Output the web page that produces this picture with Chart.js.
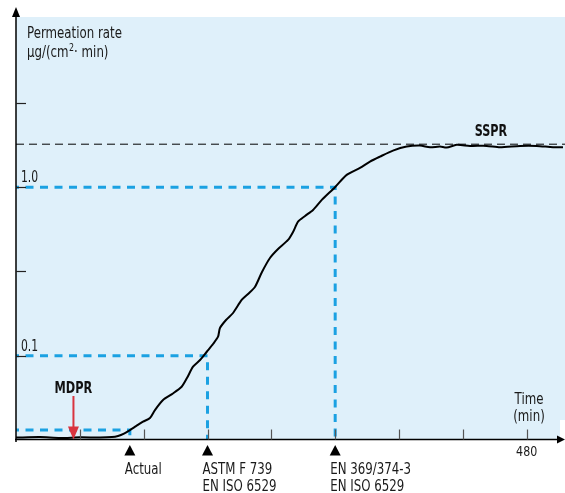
<!DOCTYPE html>
<html>
<head>
<meta charset="utf-8">
<script src="https://cdn.jsdelivr.net/npm/chart.js@4.4.1/dist/chart.umd.min.js"></script>
<style>
  html, body { margin: 0; padding: 0; background: #fff; }
  #wrap { width: 565px; height: 493px; }
</style>
</head>
<body>
<div id="wrap"><canvas id="chart" width="565" height="493"></canvas></div>
<script>
// permeation curve (time in min, rate in µg/(cm²·min))
const curveTimes = [0, 22.6, 41.4, 60.2, 79.0, 90.2, 95.9, 101.5, 107.1, 112.8, 119.4, 125.9, 130.6, 138.2,
    146.6, 155.7, 160.7, 166.4, 173.0, 179.3, 185.2, 189.9, 191.7, 197.4, 204.0, 212.1, 218.1, 224.7,
    231.2, 238.7, 246.3, 255.7, 260.4, 265.1, 271.7, 279.2, 287.4, 299.8, 310.8, 323.3, 332.7, 342.1,
    354.3, 367.2, 379.7, 389.1, 398.5, 404.8, 414.2, 426.7, 442.4, 454.9, 473.7, 489.4, 504.7, 514.1];
const curveRates = [0.0327, 0.0329, 0.0325, 0.0328, 0.0327, 0.0329, 0.0334, 0.0345, 0.0362, 0.0382, 0.0406, 0.0427, 0.0476, 0.0546,
    0.0592, 0.0655, 0.0737, 0.0861, 0.0943, 0.1056, 0.1174, 0.1297, 0.1461, 0.1629, 0.1793, 0.2142, 0.2325, 0.2569,
    0.3141, 0.3803, 0.4301, 0.4864, 0.5425, 0.6247, 0.6754, 0.7329, 0.8407, 1.0, 1.183, 1.302, 1.419, 1.519,
    1.649, 1.742, 1.766, 1.728, 1.742, 1.719, 1.784, 1.759, 1.759, 1.728, 1.759, 1.759, 1.728, 1.728];

// breakthrough markers
const markerTimes = [107, 180, 300];
const markerRates = [0.0362, 0.1, 1.0];
const markerLabels = [['Actual'], ['ASTM F 739', 'EN ISO 6529'], ['EN 369/374-3', 'EN ISO 6529']];

const ssprRate = 1.8;
const mdprTime = 54;

// axis ticks
const xTicks = [60, 120, 180, 240, 300, 360, 420, 480];
const xTickLabels = ['', '', '', '', '', '', '', '480'];
const yTicks = [0.1, 0.3162, 1, 3.162];
const yTickLabels = ['0.1', '', '1.0', ''];

const X_MAX = 516;
const Y_MIN = Math.pow(10, -1.5);
const Y_MAX = Math.pow(10, 1.01);

const FONT = '"Liberation Sans Narrow", "DejaVu Sans Condensed", "Liberation Sans", sans-serif';
const BLUE = '#1ba1e2';

const curveData = curveTimes.map((t, i) => ({ x: t, y: curveRates[i] }));

const guideSets = markerTimes.map((t, i) => ({
    data: [{ x: 0, y: markerRates[i] }, { x: t, y: markerRates[i] }, { x: t, y: Y_MIN }],
    borderColor: BLUE,
    borderWidth: 3,
    borderDash: [8, 6.5],
    borderDashOffset: 5,
    pointRadius: 0,
    tension: 0
}));

// condensed text: the original uses a narrow face, squeeze horizontally
function text(ctx, s, x, y, align, sx) {
    ctx.save();
    ctx.translate(x, y);
    ctx.scale(sx, 1);
    ctx.textAlign = align;
    ctx.fillText(s, 0, 0);
    ctx.restore();
}

const decor = {
    id: 'decor',
    beforeDraw(chart) {
        const { ctx, chartArea: a } = chart;
        ctx.save();
        ctx.fillStyle = '#dff0fa';
        ctx.fillRect(a.left, a.top, a.right - a.left - 5, a.bottom - a.top);
        ctx.fillRect(a.left, a.top, a.right - a.left, a.bottom - a.top - 20);
        ctx.restore();
    },
    afterDraw(chart) {
        const { ctx, chartArea: a, scales } = chart;
        const xs = scales.x, ys = scales.y;
        const axisY = a.bottom - 0.5;
        ctx.save();

        // axes
        ctx.strokeStyle = '#000';
        ctx.lineWidth = 1.5;
        ctx.beginPath();
        ctx.moveTo(a.left, a.bottom + 2);
        ctx.lineTo(a.left, a.top - 4);
        ctx.moveTo(a.left - 1, axisY);
        ctx.lineTo(a.right - 4, axisY);
        ctx.stroke();
        ctx.fillStyle = '#000';
        ctx.beginPath();
        ctx.moveTo(a.left, a.top - 10);
        ctx.lineTo(a.left - 4, a.top);
        ctx.lineTo(a.left + 4, a.top);
        ctx.closePath();
        ctx.fill();
        ctx.beginPath();
        ctx.moveTo(a.right, axisY);
        ctx.lineTo(a.right - 8, axisY - 4);
        ctx.lineTo(a.right - 8, axisY + 4);
        ctx.closePath();
        ctx.fill();

        // ticks
        ctx.lineWidth = 1.2;
        ctx.strokeStyle = '#555';
        xTicks.forEach(v => {
            const px = Math.round(xs.getPixelForValue(v)) + 0.5;
            ctx.beginPath();
            ctx.moveTo(px, axisY);
            ctx.lineTo(px, axisY - 10);
            ctx.stroke();
        });
        ctx.strokeStyle = '#222';
        yTicks.forEach(v => {
            const py = Math.round(ys.getPixelForValue(v)) + 0.5;
            ctx.beginPath();
            ctx.moveTo(a.left, py);
            ctx.lineTo(a.left + 10, py);
            ctx.stroke();
        });

        // tick labels
        ctx.fillStyle = '#1a1a1a';
        ctx.textBaseline = 'alphabetic';
        ctx.font = '14px ' + FONT;
        xTicks.forEach((v, i) => {
            if (xTickLabels[i]) text(ctx, xTickLabels[i], xs.getPixelForValue(v), axisY + 16, 'center', 0.88);
        });
        ctx.font = '15px ' + FONT;
        yTicks.forEach((v, i) => {
            if (yTickLabels[i]) text(ctx, yTickLabels[i], a.left + 5, ys.getPixelForValue(v) - 5, 'left', 0.8);
        });

        // axis titles
        const SX = 0.875;
        ctx.font = '15px ' + FONT;
        text(ctx, 'Permeation rate', 27, 38, 'left', SX);
        let tx = 27;
        const part1 = 'µg/(cm';
        text(ctx, part1, tx, 57, 'left', SX);
        tx += ctx.measureText(part1).width * SX;
        ctx.font = '10px ' + FONT;
        text(ctx, '2', tx + 0.5, 51, 'left', SX);
        tx += ctx.measureText('2').width * SX + 0.5;
        ctx.font = '15px ' + FONT;
        text(ctx, '· min)', tx, 57, 'left', SX);

        text(ctx, 'Time', 529, 404, 'center', SX);
        text(ctx, '(min)', 529, 421, 'center', SX);

        // markers below the axis
        markerTimes.forEach((t, i) => {
            const px = xs.getPixelForValue(t);
            ctx.fillStyle = '#000';
            ctx.beginPath();
            ctx.moveTo(px, axisY + 5.5);
            ctx.lineTo(px - 5.5, axisY + 16);
            ctx.lineTo(px + 5.5, axisY + 16);
            ctx.closePath();
            ctx.fill();
            ctx.fillStyle = '#1a1a1a';
            markerLabels[i].forEach((s, j) => text(ctx, s, px - 5, axisY + 34 + j * 17, 'left', SX));
        });

        // SSPR / MDPR
        ctx.font = 'bold 15px ' + FONT;
        ctx.fillStyle = '#111';
        text(ctx, 'SSPR', 491, ys.getPixelForValue(ssprRate) - 8, 'center', 0.83);
        const mx = xs.getPixelForValue(mdprTime);
        text(ctx, 'MDPR', mx, 393, 'center', 0.84);
        ctx.strokeStyle = '#d9343f';
        ctx.fillStyle = '#d9343f';
        ctx.lineWidth = 2;
        ctx.beginPath();
        ctx.moveTo(mx, 396);
        ctx.lineTo(mx, axisY - 10);
        ctx.stroke();
        ctx.beginPath();
        ctx.moveTo(mx, axisY);
        ctx.lineTo(mx - 5.5, axisY - 13);
        ctx.lineTo(mx + 5.5, axisY - 13);
        ctx.closePath();
        ctx.fill();

        ctx.restore();
    }
};

new Chart(document.getElementById('chart'), {
    type: 'line',
    data: {
        datasets: [
            {
                data: curveData,
                borderColor: '#000',
                borderWidth: 2,
                pointRadius: 0,
                tension: 0.25
            },
            ...guideSets,
            {
                data: [{ x: 0, y: ssprRate }, { x: X_MAX, y: ssprRate }],
                borderColor: '#000',
                borderWidth: 1,
                borderDash: [8, 5],
                pointRadius: 0
            }
        ]
    },
    options: {
        responsive: false,
        devicePixelRatio: 1,
        animation: false,
        layout: { padding: { left: 16, top: 17, right: 0, bottom: 53 } },
        plugins: { legend: { display: false }, tooltip: { enabled: false } },
        scales: {
            x: { type: 'linear', min: 0, max: X_MAX, display: false },
            y: { type: 'logarithmic', min: Y_MIN, max: Y_MAX, display: false }
        }
    },
    plugins: [decor]
});
</script>
</body>
</html>
